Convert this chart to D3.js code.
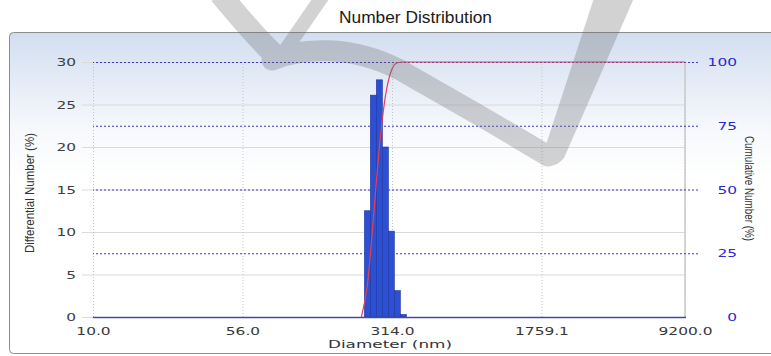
<!DOCTYPE html>
<html>
<head>
<meta charset="utf-8">
<script src="https://cdn.jsdelivr.net/npm/d3@7"></script>
<style>
  html, body { margin: 0; padding: 0; background: #ffffff; }
  svg { display: block; }
</style>
</head>
<body>
<svg id="chart" width="771" height="356"></svg>
<script>
// Size distribution by number: differential bars and cumulative curve
const diameters    = [236.4, 253.3, 271.4, 290.9, 311.6, 334.0, 357.9];   // bin centres, nm
const differential = [12.5, 26.1, 27.9, 20.0, 10.1, 3.1, 0.3];           // %
const cumDiameters = [220.6, 236.4, 253.3, 271.4, 290.9, 311.6, 334.0, 357.9, 9200];
const cumulative   = [0, 12.5, 38.6, 66.5, 86.5, 96.6, 99.7, 100, 100]; // %
const xTicks       = [10, 56, 314, 1759.1, 9200];
const leftTicks    = [0, 5, 10, 15, 20, 25, 30];
const rightTicks   = [0, 25, 50, 75, 100];

const svg = d3.select("#chart");
const defs = svg.append("defs");

const plot = { left: 93, right: 685, top: 62, bottom: 317 };

const x  = d3.scaleLog().domain([10, 9200]).range([plot.left, plot.right]);
const yL = d3.scaleLinear().domain([0, 30]).range([plot.bottom, plot.top]);
const yR = d3.scaleLinear().domain([0, 100]).range([plot.bottom, plot.top]);

// panel background
const grad = defs.append("linearGradient").attr("id", "panelGrad")
  .attr("x1", 0).attr("y1", 0).attr("x2", 0).attr("y2", 1);
grad.append("stop").attr("offset", "0%").attr("stop-color", "#d2def0");
grad.append("stop").attr("offset", "30%").attr("stop-color", "#f6f8fc");
grad.append("stop").attr("offset", "45%").attr("stop-color", "#ffffff");

svg.append("rect")
  .attr("x", 9.5).attr("y", 32.5).attr("width", 800).attr("height", 321)
  .attr("rx", 4)
  .attr("fill", "url(#panelGrad)")
  .attr("stroke", "#8c8c8c").attr("stroke-width", 1);

// widen the blocky tick font horizontally, keeping anchor positions
const SX = 1.4;
function widen(sel) {
  sel.each(function () {
    const t = d3.select(this);
    const tx = +t.attr("x") || 0;
    t.attr("transform", `translate(${tx * (1 - SX)},0) scale(${SX},1)`);
  });
}

// left axis with light grey gridlines
const gLeft = svg.append("g").attr("transform", `translate(82,0)`)
  .call(d3.axisLeft(yL).tickValues(leftTicks).tickSize(-(plot.right - 82)).tickPadding(6));
gLeft.select(".domain").remove();
gLeft.selectAll(".tick line").attr("stroke", "#dadada").attr("stroke-width", 1);
gLeft.selectAll(".tick text")
  .attr("fill", "#404040").attr("font-family", "DejaVu Sans").attr("font-size", 11)
  .call(widen);

// vertical gridlines and the bottom axis
const gBottom = svg.append("g").attr("transform", `translate(0,${plot.bottom})`)
  .call(d3.axisBottom(x).tickValues(xTicks).tickFormat(d3.format(".1f"))
    .tickSize(-(plot.bottom - plot.top)).tickSizeOuter(0).tickPadding(10));
gBottom.selectAll(".tick line").attr("stroke", "#c4c4cc").attr("stroke-dasharray", "1,2");
gBottom.select(".domain").attr("stroke", "none");
gBottom.selectAll(".tick text")
  .attr("fill", "#383838").attr("font-family", "DejaVu Sans").attr("font-size", 11)
  .call(widen);

// right edge of the plot
svg.append("line")
  .attr("x1", plot.right).attr("x2", plot.right)
  .attr("y1", plot.top).attr("y2", plot.bottom)
  .attr("stroke", "#c8c8c8").attr("stroke-width", 1.5);

// right axis with blue dotted gridlines
const gRight = svg.append("g").attr("transform", `translate(698,0)`)
  .call(d3.axisRight(yR).tickValues(rightTicks).tickSize(-(698 - plot.left)).tickPadding(0));
gRight.select(".domain").remove();
gRight.selectAll(".tick line")
  .attr("stroke", "#3a3acc").attr("stroke-width", 1).attr("stroke-dasharray", "2,2")
  .filter(d => d === 0).remove();
gRight.selectAll(".tick text")
  .attr("fill", "#2a2ad0").attr("font-family", "DejaVu Sans").attr("font-size", 11)
  .attr("text-anchor", "end").attr("x", 39)
  .call(widen);

// differential bars on log-spaced bins
const step = Math.sqrt(diameters[1] / diameters[0]);
svg.append("g").selectAll("rect")
  .data(diameters)
  .join("rect")
  .attr("x", d => x(d / step))
  .attr("width", d => x(d * step) - x(d / step))
  .attr("y", (d, i) => yL(differential[i]))
  .attr("height", (d, i) => yL(0) - yL(differential[i]))
  .attr("fill", "#2b50d3")
  .attr("stroke", "#1d339c").attr("stroke-width", 0.6);

// cumulative curve
const line = d3.line()
  .x((d, i) => x(cumDiameters[i]))
  .y(d => yR(d))
  .curve(d3.curveMonotoneX);
svg.append("path")
  .datum(cumulative)
  .attr("d", line)
  .attr("fill", "none")
  .attr("stroke", "#e0405c").attr("stroke-width", 1.2);

// bottom axis line
svg.append("line")
  .attr("x1", plot.left).attr("x2", plot.right + 1)
  .attr("y1", plot.bottom + 0.5).attr("y2", plot.bottom + 0.5)
  .attr("stroke", "#4848a8").attr("stroke-width", 1.5);

// titles
svg.append("text")
  .attr("x", 339).attr("y", 23)
  .attr("font-family", "Liberation Sans").attr("font-size", 16)
  .attr("fill", "#1a1a1a")
  .attr("textLength", 153).attr("lengthAdjust", "spacingAndGlyphs")
  .text("Number Distribution");

svg.append("text")
  .attr("x", 328).attr("y", 348)
  .attr("font-family", "DejaVu Sans").attr("font-size", 11)
  .attr("fill", "#333333")
  .attr("textLength", 124).attr("lengthAdjust", "spacingAndGlyphs")
  .text("Diameter (nm)");

svg.append("text")
  .attr("transform", "translate(34,253) rotate(-90)")
  .attr("font-family", "Liberation Sans").attr("font-size", 12)
  .attr("fill", "#333333")
  .attr("textLength", 120).attr("lengthAdjust", "spacingAndGlyphs")
  .text("Differential Number (%)");

svg.append("text")
  .attr("transform", "translate(745,136) rotate(90)")
  .attr("font-family", "Liberation Sans").attr("font-size", 12)
  .attr("fill", "#333333")
  .attr("textLength", 105).attr("lengthAdjust", "spacingAndGlyphs")
  .text("Cumulative Number (%)");

// translucent grey check-mark logo laid over the panel
const mark = svg.append("g").attr("opacity", 0.3);
mark.append("path").attr("fill", "none").attr("stroke", "#6e6e6e")
  .attr("stroke-width", 22)
  .attr("d", "M 220,-6 C 240,18 258,40 278,58");
mark.append("path").attr("fill", "none").attr("stroke", "#6e6e6e")
  .attr("stroke-width", 14)
  .attr("d", "M 324,-6 L 284,52");
mark.append("path").attr("fill", "none").attr("stroke", "#6e6e6e")
  .attr("stroke-width", 21).attr("stroke-linejoin", "round").attr("stroke-linecap", "round")
  .attr("d", "M 272,60 C 300,48 350,44 400,70 L 470,110 Q 525,142 548,156");
mark.append("path").attr("fill", "#6e6e6e")
  .attr("d", "M 594,-2 L 634,-2 L 564,158 Q 552,172 541,160 Z");
</script>
</body>
</html>
